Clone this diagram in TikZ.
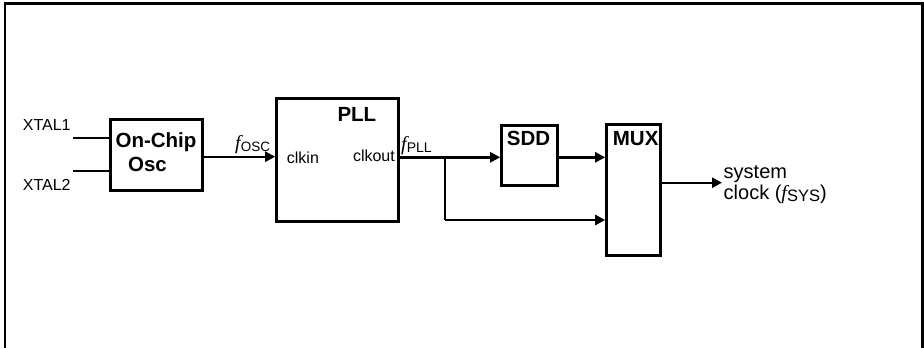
\documentclass[tikz,border=0pt]{standalone}
\usepackage{fontspec}
\setmainfont{Liberation Sans}
\newfontfamily\serifit{Liberation Serif}[ItalicFont={Liberation Serif Italic}]
\usetikzlibrary{arrows.meta}
\newcommand{\fsub}[2][13.5]{{\fontsize{20}{22}\selectfont\serifit\itshape f}\raisebox{-2.5pt}{\fontsize{#1}{15}\selectfont #2}}
\tikzset{
  blk/.style={draw, line width=3pt, inner sep=0pt, rectangle},
  wire/.style={line width=2.4pt},
  arr/.style={wire, -{Triangle[length=10pt,width=10pt]}},
  lbl/.style={inner sep=0pt, font=\fontsize{16}{18}\selectfont},
  blbl/.style={inner sep=0pt, font=\fontsize{20.5}{22}\selectfont\bfseries},
  biglbl/.style={inner sep=0pt, font=\fontsize{20}{22}\selectfont},
}
\begin{document}
\begin{tikzpicture}[x=1pt,y=-1pt]
\useasboundingbox (0,0) rectangle (924,348);
% frame
\draw[line width=2.6pt] (5,352) -- (5,3.7) -- (922.5,3.7) -- (922.5,352);
% blocks
\node[blk, minimum width=92pt, minimum height=70.5pt] (osc) at (156,154.75) {};
\node[blk, minimum width=121.6pt, minimum height=123.4pt] (pll) at (337.5,160) {};
\node[blk, minimum width=55.6pt, minimum height=60pt] (sdd) at (529.5,155) {};
\node[blk, minimum width=53.3pt, minimum height=131pt] (mux) at (633.35,189.5) {};
% coordinates
\coordinate (x1) at (72.7,137.7);
\coordinate (x2) at (72.7,170.7);
\coordinate (br) at (445,157.3);
\coordinate (brd) at (445,220);
\coordinate (out) at (722,182.7);
% wires
\draw[wire] (x1) -- (x1 -| osc.west);
\draw[wire] (x2) -- (x2 -| osc.west);
\draw[arr] (osc.east |- 0,156.7) -- (pll.west |- 0,156.7);
\draw[arr] (pll.east |- br) -- (sdd.west |- br);
\draw[arr] (sdd.east |- br) -- (mux.west |- br);
\draw[wire] (br) -- (brd);
\draw[arr] (brd) -- (mux.west |- brd);
\draw[arr] (mux.east |- out) -- (out);
% texts
\node[lbl, anchor=base west] (t1) at (22.7,130) {XTAL1};
\node[lbl, anchor=base west] (t2) at (22.7,190) {XTAL2};
\node[blbl, anchor=base] (t3) at (156,147.7) {On-Chip};
\node[blbl, anchor=base] (t4) at (147.5,171.7) {Osc};
\node[inner sep=0pt, anchor=base west] (t5) at (235,149) {\fsub{OSC}};
\node[lbl, anchor=base west] (t6) at (286.7,163.3) {clkin};
\node[lbl, anchor=base east] (t7) at (395,161.7) {clkout};
\node[blbl, anchor=base west] (t8) at (337.3,121.7) {PLL};
\node[inner sep=0pt, anchor=base west] (t9) at (401,150) {\fsub[14]{PLL}};
\node[blbl, anchor=base west] (t10) at (506.7,145) {SDD};
\node[blbl, anchor=base west] (t11) at (612.7,145) {MUX};
\node[biglbl, anchor=base west] (t12) at (723.5,178) {system};
\node[biglbl, anchor=base west] (t13) at (723.5,199) {clock (\fsub[16.5]{SYS})};
\end{tikzpicture}
\end{document}
